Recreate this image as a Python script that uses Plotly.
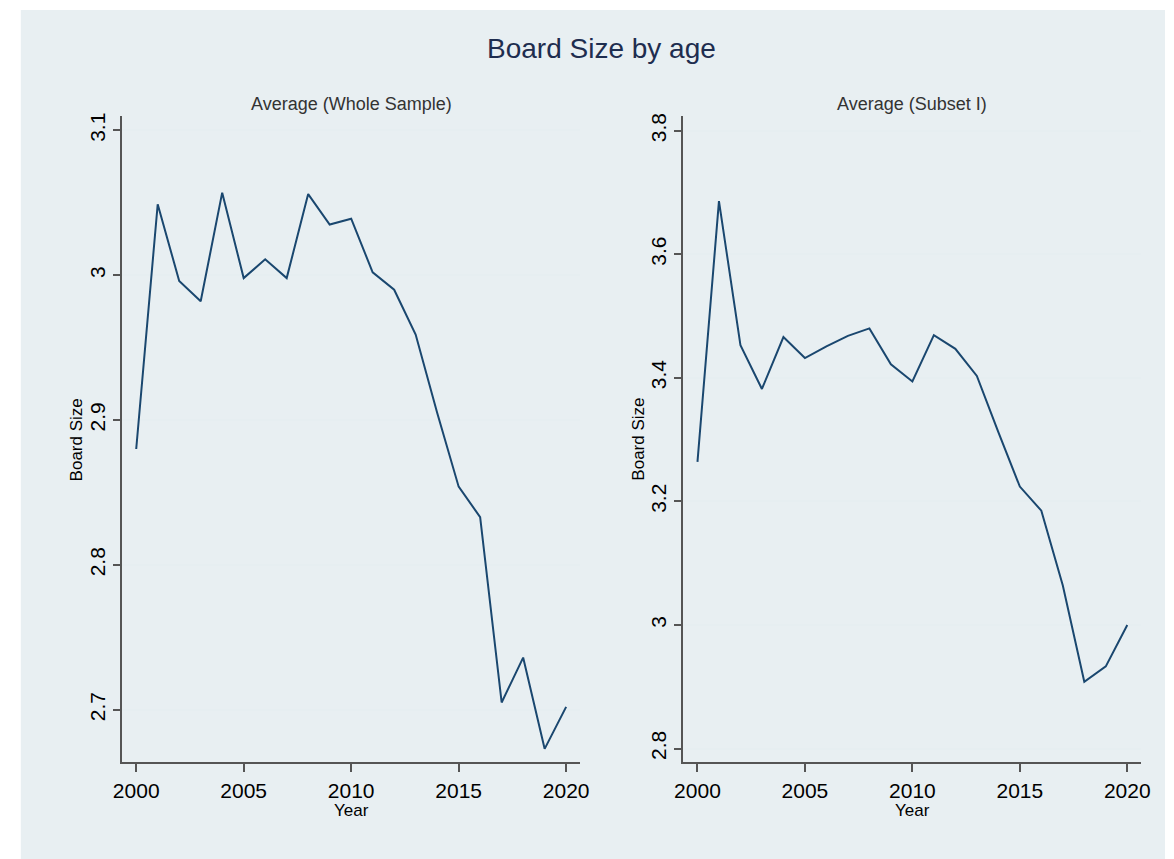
import plotly.graph_objects as go

years = list(range(2000, 2021))
whole_sample = [2.880, 3.049, 2.996, 2.982, 3.057, 2.998, 3.011, 2.998, 3.056, 3.035,
                3.039, 3.002, 2.990, 2.959, 2.905, 2.854, 2.833, 2.705, 2.736, 2.673, 2.702]
subset_i = [3.264, 3.686, 3.453, 3.382, 3.466, 3.432, 3.451, 3.468, 3.480, 3.422,
            3.394, 3.469, 3.447, 3.403, 3.312, 3.224, 3.185, 3.064, 2.908, 2.933, 3.000]

left_ticks = [2.7, 2.8, 2.9, 3.0, 3.1]
left_ticktext = ["2.7", "2.8", "2.9", "3", "3.1"]
right_ticks = [2.8, 3.0, 3.2, 3.4, 3.6, 3.8]
right_ticktext = ["2.8", "3", "3.2", "3.4", "3.6", "3.8"]
x_ticks = [2000, 2005, 2010, 2015, 2020]

title = "Board Size by age"
sub_titles = ["Average (Whole Sample)", "Average (Subset I)"]
x_title = "Year"
y_title = "Board Size"

W, H = 1174, 859
FONT = "Liberation Sans, Arial, sans-serif"
LINE = "#1a476f"
BG = "#e8eff2"
AX = "#555555"
GRID = "#e6eef1"

def px(x):
    return x / W

def py(y):
    return 1 - y / H

fig = go.Figure()
fig.add_trace(go.Scatter(x=years, y=whole_sample, mode="lines",
                         line=dict(color=LINE, width=2), xaxis="x", yaxis="y",
                         showlegend=False))
fig.add_trace(go.Scatter(x=years, y=subset_i, mode="lines",
                         line=dict(color=LINE, width=2), xaxis="x2", yaxis="y2",
                         showlegend=False))

xcommon = dict(tickvals=x_ticks, showgrid=False, zeroline=False, showline=True,
               linecolor=AX, linewidth=2, ticks="outside", ticklen=8, tickwidth=1.5,
               tickcolor=AX, tickfont=dict(family=FONT, size=21, color="#000000"))
ycommon = dict(showgrid=True, gridcolor=GRID, gridwidth=1.5, zeroline=False, showline=True,
               linecolor=AX, linewidth=2, ticks="outside", ticklen=7, tickwidth=1.5,
               tickcolor=AX, tickangle=-90,
               tickfont=dict(family=FONT, size=21, color="#000000"))

L0, L1 = 115, 580
R0, R1 = 685, 1150
T0, B0 = 113, 762

fig.update_layout(
    width=W, height=H,
    margin=dict(l=0, r=0, t=0, b=0),
    paper_bgcolor="white",
    plot_bgcolor="white",
    xaxis=dict(domain=[px(L0), px(L1)], range=[1999.35, 2020.65], anchor="y", **xcommon),
    yaxis=dict(domain=[py(B0), py(T0)], range=[2.6636, 3.1096], anchor="x",
               tickvals=left_ticks, ticktext=left_ticktext, **ycommon),
    xaxis2=dict(domain=[px(R0), px(R1)], range=[1999.35, 2020.655], anchor="y2", **xcommon),
    yaxis2=dict(domain=[py(B0), py(T0)], range=[2.7775, 3.823], anchor="x2",
                tickvals=right_ticks, ticktext=right_ticktext, **ycommon),
    shapes=[dict(type="rect", xref="paper", yref="paper", x0=px(12), x1=1, y0=0, y1=py(6),
                 fillcolor=BG, line=dict(width=0), layer="below")],
)

ann = []
ann.append(dict(text=title, x=px(602), y=py(45), xref="paper", yref="paper",
                showarrow=False, xanchor="center", yanchor="middle",
                font=dict(family=FONT, size=28, color="#1e2d4f")))
for t, c in zip(sub_titles, [(L0 + L1) / 2, (R0 + R1) / 2]):
    ann.append(dict(text=t, x=px(c), y=py(100), xref="paper", yref="paper",
                    showarrow=False, xanchor="center", yanchor="middle",
                    font=dict(family=FONT, size=18, color="#333333")))
    ann.append(dict(text=x_title, x=px(c), y=py(810), xref="paper", yref="paper",
                    showarrow=False, xanchor="center", yanchor="middle",
                    font=dict(family=FONT, size=17, color="#000000")))
for xc in [69, 639]:
    ann.append(dict(text=y_title, x=px(xc), y=py((T0 + B0) / 2), xref="paper", yref="paper",
                    showarrow=False, xanchor="center", yanchor="middle", textangle=-90,
                    font=dict(family=FONT, size=17, color="#000000")))
fig.update_layout(annotations=ann)

fig.write_html("out.html")
